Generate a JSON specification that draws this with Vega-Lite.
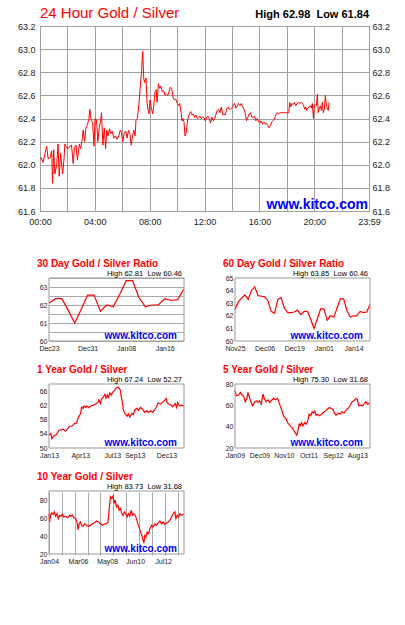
{
"$schema": "https://vega.github.io/schema/vega-lite/v6.json",
"autosize": {"type": "pad"},
"padding": {"left": 16, "top": 5, "right": 4, "bottom": 4},
"background": "white",
"spacing": 67,
"bounds": "flush",
"config": {
  "font": "Liberation Sans",
  "view": {"stroke": null},
  "axis": {"labelFont": "Liberation Sans", "ticks": false, "domain": false, "labelColor": "#222222", "gridColor": "#aaaaaa", "gridOpacity": 1, "gridWidth": 1, "labelFlush": false, "labelOverlap": false},
  "text": {"font": "Liberation Sans"}
},
"vconcat": [
{
 "width": 329, "height": 185,
 "view": {"stroke": "#000000"},
 "layer": [
  {
   "data": {"format": {"parse": {"time": "date:'%H:%M'"}}, "values": [
{"time":"00:00","ratio":62.05},{"time":"00:06","ratio":62.06},{"time":"00:13","ratio":62.02},{"time":"00:22","ratio":62.10},{"time":"00:29","ratio":62.16},{"time":"00:36","ratio":62.05},{"time":"00:44","ratio":62.06},{"time":"00:51","ratio":62.12},{"time":"00:55","ratio":61.84},{"time":"01:00","ratio":62.13},{"time":"01:05","ratio":61.92},{"time":"01:13","ratio":62.00},{"time":"01:19","ratio":62.18},{"time":"01:24","ratio":61.90},{"time":"01:30","ratio":62.10},{"time":"01:39","ratio":61.92},{"time":"01:45","ratio":62.05},{"time":"01:49","ratio":62.18},{"time":"01:56","ratio":62.15},{"time":"02:04","ratio":62.14},{"time":"02:11","ratio":62.16},{"time":"02:18","ratio":62.17},{"time":"02:25","ratio":62.01},{"time":"02:31","ratio":62.15},{"time":"02:37","ratio":62.17},{"time":"02:44","ratio":62.04},{"time":"02:52","ratio":62.18},{"time":"02:57","ratio":62.14},{"time":"03:03","ratio":62.20},{"time":"03:09","ratio":62.30},{"time":"03:15","ratio":62.20},{"time":"03:21","ratio":62.32},{"time":"03:28","ratio":62.35},{"time":"03:34","ratio":62.40},{"time":"03:38","ratio":62.48},{"time":"03:44","ratio":62.38},{"time":"03:50","ratio":62.37},{"time":"03:56","ratio":62.16},{"time":"04:01","ratio":62.40},{"time":"04:07","ratio":62.39},{"time":"04:13","ratio":62.20},{"time":"04:19","ratio":62.32},{"time":"04:25","ratio":62.38},{"time":"04:29","ratio":62.45},{"time":"04:35","ratio":62.17},{"time":"04:41","ratio":62.32},{"time":"04:47","ratio":62.14},{"time":"04:52","ratio":62.30},{"time":"04:58","ratio":62.25},{"time":"05:04","ratio":62.31},{"time":"05:10","ratio":62.27},{"time":"05:16","ratio":62.29},{"time":"05:23","ratio":62.23},{"time":"05:30","ratio":62.25},{"time":"05:37","ratio":62.22},{"time":"05:45","ratio":62.25},{"time":"05:51","ratio":62.30},{"time":"05:56","ratio":62.28},{"time":"06:02","ratio":62.20},{"time":"06:08","ratio":62.27},{"time":"06:15","ratio":62.29},{"time":"06:21","ratio":62.23},{"time":"06:27","ratio":62.30},{"time":"06:33","ratio":62.27},{"time":"06:39","ratio":62.17},{"time":"06:44","ratio":62.24},{"time":"06:50","ratio":62.30},{"time":"06:56","ratio":62.25},{"time":"07:00","ratio":62.39},{"time":"07:06","ratio":62.40},{"time":"07:12","ratio":62.51},{"time":"07:18","ratio":62.66},{"time":"07:24","ratio":62.80},{"time":"07:29","ratio":62.98},{"time":"07:34","ratio":62.74},{"time":"07:38","ratio":62.71},{"time":"07:44","ratio":62.75},{"time":"07:48","ratio":62.54},{"time":"07:53","ratio":62.47},{"time":"07:57","ratio":62.44},{"time":"08:01","ratio":62.56},{"time":"08:07","ratio":62.49},{"time":"08:13","ratio":62.44},{"time":"08:19","ratio":62.54},{"time":"08:23","ratio":62.63},{"time":"08:28","ratio":62.65},{"time":"08:32","ratio":62.54},{"time":"08:38","ratio":62.70},{"time":"08:44","ratio":62.66},{"time":"08:49","ratio":62.68},{"time":"08:55","ratio":62.63},{"time":"09:01","ratio":62.64},{"time":"09:07","ratio":62.60},{"time":"09:13","ratio":62.61},{"time":"09:19","ratio":62.60},{"time":"09:24","ratio":62.63},{"time":"09:30","ratio":62.67},{"time":"09:36","ratio":62.66},{"time":"09:42","ratio":62.58},{"time":"09:48","ratio":62.56},{"time":"09:53","ratio":62.57},{"time":"09:59","ratio":62.54},{"time":"10:05","ratio":62.51},{"time":"10:11","ratio":62.53},{"time":"10:17","ratio":62.45},{"time":"10:21","ratio":62.38},{"time":"10:25","ratio":62.40},{"time":"10:30","ratio":62.37},{"time":"10:34","ratio":62.25},{"time":"10:39","ratio":62.27},{"time":"10:43","ratio":62.34},{"time":"10:47","ratio":62.40},{"time":"10:53","ratio":62.44},{"time":"10:59","ratio":62.46},{"time":"11:05","ratio":62.43},{"time":"11:11","ratio":62.44},{"time":"11:16","ratio":62.41},{"time":"11:22","ratio":62.43},{"time":"11:28","ratio":62.40},{"time":"11:34","ratio":62.41},{"time":"11:40","ratio":62.42},{"time":"11:45","ratio":62.40},{"time":"11:51","ratio":62.41},{"time":"11:57","ratio":62.41},{"time":"12:03","ratio":62.38},{"time":"12:09","ratio":62.41},{"time":"12:15","ratio":62.42},{"time":"12:20","ratio":62.40},{"time":"12:26","ratio":62.36},{"time":"12:32","ratio":62.41},{"time":"12:38","ratio":62.38},{"time":"12:44","ratio":62.40},{"time":"12:49","ratio":62.43},{"time":"12:55","ratio":62.47},{"time":"13:01","ratio":62.48},{"time":"13:07","ratio":62.45},{"time":"13:13","ratio":62.50},{"time":"13:19","ratio":62.43},{"time":"13:24","ratio":62.44},{"time":"13:30","ratio":62.43},{"time":"13:36","ratio":62.48},{"time":"13:42","ratio":62.50},{"time":"13:48","ratio":62.48},{"time":"13:53","ratio":62.48},{"time":"13:59","ratio":62.49},{"time":"14:05","ratio":62.51},{"time":"14:11","ratio":62.53},{"time":"14:17","ratio":62.49},{"time":"14:23","ratio":62.51},{"time":"14:28","ratio":62.53},{"time":"14:34","ratio":62.51},{"time":"14:40","ratio":62.53},{"time":"14:46","ratio":62.50},{"time":"14:52","ratio":62.48},{"time":"14:57","ratio":62.45},{"time":"15:03","ratio":62.38},{"time":"15:09","ratio":62.41},{"time":"15:15","ratio":62.44},{"time":"15:21","ratio":62.45},{"time":"15:27","ratio":62.41},{"time":"15:32","ratio":62.41},{"time":"15:38","ratio":62.42},{"time":"15:44","ratio":62.38},{"time":"15:50","ratio":62.40},{"time":"15:56","ratio":62.37},{"time":"16:01","ratio":62.36},{"time":"16:07","ratio":62.38},{"time":"16:13","ratio":62.35},{"time":"16:19","ratio":62.37},{"time":"16:25","ratio":62.35},{"time":"16:31","ratio":62.36},{"time":"16:36","ratio":62.34},{"time":"16:42","ratio":62.32},{"time":"16:48","ratio":62.34},{"time":"16:54","ratio":62.37},{"time":"17:00","ratio":62.38},{"time":"17:05","ratio":62.39},{"time":"17:11","ratio":62.43},{"time":"17:17","ratio":62.45},{"time":"17:23","ratio":62.44},{"time":"17:30","ratio":62.45},{"time":"17:45","ratio":62.45},{"time":"17:59","ratio":62.45},{"time":"18:08","ratio":62.45},{"time":"18:12","ratio":62.54},{"time":"18:17","ratio":62.50},{"time":"18:21","ratio":62.53},{"time":"18:27","ratio":62.52},{"time":"18:33","ratio":62.54},{"time":"18:39","ratio":62.51},{"time":"18:44","ratio":62.53},{"time":"18:50","ratio":62.54},{"time":"18:56","ratio":62.53},{"time":"19:02","ratio":62.54},{"time":"19:08","ratio":62.53},{"time":"19:13","ratio":62.51},{"time":"19:18","ratio":62.48},{"time":"19:22","ratio":62.50},{"time":"19:27","ratio":62.47},{"time":"19:31","ratio":62.49},{"time":"19:37","ratio":62.50},{"time":"19:42","ratio":62.51},{"time":"19:47","ratio":62.49},{"time":"19:51","ratio":62.53},{"time":"19:56","ratio":62.40},{"time":"20:00","ratio":62.51},{"time":"20:04","ratio":62.52},{"time":"20:09","ratio":62.51},{"time":"20:13","ratio":62.61},{"time":"20:17","ratio":62.45},{"time":"20:22","ratio":62.49},{"time":"20:26","ratio":62.51},{"time":"20:31","ratio":62.47},{"time":"20:35","ratio":62.54},{"time":"20:39","ratio":62.45},{"time":"20:44","ratio":62.48},{"time":"20:48","ratio":62.60},{"time":"20:52","ratio":62.53},{"time":"20:57","ratio":62.48},{"time":"21:01","ratio":62.47},{"time":"21:05","ratio":62.54}
   ]},
   "mark": {"type": "line", "color": "#ff0000", "strokeWidth": 1},
   "encoding": {
    "x": {"field": "time", "type": "temporal",
     "scale": {"domain": [{"year":1900,"month":1,"date":1,"hours":0,"minutes":0},{"year":1900,"month":1,"date":1,"hours":23,"minutes":59}]},
     "axis": {"title": null, "orient": "bottom", "labelFontSize": 9, "labelPadding": 6, "gridColor": "#a0a0a0",
      "labelExpr": "(hours(datum.value) % 4 == 0 && minutes(datum.value) == 0) || minutes(datum.value) == 59 ? timeFormat(datum.value, '%H:%M') : ''",
      "values": [{"year":1900,"month":1,"date":1,"hours":0},{"year":1900,"month":1,"date":1,"hours":2},{"year":1900,"month":1,"date":1,"hours":4},{"year":1900,"month":1,"date":1,"hours":6},{"year":1900,"month":1,"date":1,"hours":8},{"year":1900,"month":1,"date":1,"hours":10},{"year":1900,"month":1,"date":1,"hours":12},{"year":1900,"month":1,"date":1,"hours":14},{"year":1900,"month":1,"date":1,"hours":16},{"year":1900,"month":1,"date":1,"hours":18},{"year":1900,"month":1,"date":1,"hours":20},{"year":1900,"month":1,"date":1,"hours":22},{"year":1900,"month":1,"date":1,"hours":23,"minutes":59}]}},
    "y": {"field": "ratio", "type": "quantitative",
     "scale": {"domain": [61.6, 63.2], "zero": false, "nice": false},
     "axis": {"title": null, "orient": "left", "values": [61.6,61.8,62.0,62.2,62.4,62.6,62.8,63.0,63.2], "format": ".1f", "labelFontSize": 9, "labelPadding": 5, "gridColor": "#a0a0a0", "minExtent": 0}}
   }
  },
  {
   "data": {"values": [{"label": "www.kitco.com"}]},
   "mark": {"type": "text", "align": "right", "baseline": "alphabetic", "dx": -1, "dy": -2, "fontSize": 14, "fontWeight": "bold", "color": "#0000ff"},
   "encoding": {
    "x": {"datum": {"year":1900,"month":1,"date":1,"hours":23,"minutes":59}, "type": "temporal", "axis": null},
    "y": {"datum": 61.6, "type": "quantitative", "axis": {"orient": "right", "title": null, "values": [61.6,61.8,62.0,62.2,62.4,62.6,62.8,63.0,63.2], "format": ".1f", "labelFontSize": 9, "labelPadding": 3, "grid": false, "minExtent": 0}},
    "text": {"field": "label"}
   }
  },
  {
   "data": {"values": [{"label": "24 Hour Gold / Silver"}]},
   "mark": {"type": "text", "align": "left", "baseline": "alphabetic", "dy": -8, "fontSize": 15, "color": "#ff0000"},
   "encoding": {
    "x": {"datum": {"year":1900,"month":1,"date":1,"hours":0,"minutes":0}, "type": "temporal", "axis": null},
    "y": {"datum": 63.2, "type": "quantitative", "axis": null},
    "text": {"field": "label"}
   }
  },
  {
   "data": {"values": [{"label": "High 62.98\u00a0\u00a0Low 61.84"}]},
   "mark": {"type": "text", "align": "right", "baseline": "alphabetic", "dy": -8, "fontSize": 11, "fontWeight": "bold", "color": "#000000"},
   "encoding": {
    "x": {"datum": {"year":1900,"month":1,"date":1,"hours":23,"minutes":59}, "type": "temporal", "axis": null},
    "y": {"datum": 63.2, "type": "quantitative", "axis": null},
    "text": {"field": "label"}
   }
  }
 ],
 "resolve": {"axis": {"x": "independent", "y": "independent"}}
},
{
 "width": 330, "height": 277,
 "layer": [
  {
   "layer": [
    {
     "data": {"values": [
{"day":0,"ratio":62.1},{"day":1,"ratio":62.35},{"day":2,"ratio":62.35},{"day":3,"ratio":61.7},{"day":4,"ratio":61.0},{"day":5,"ratio":61.75},{"day":6,"ratio":62.55},{"day":7,"ratio":62.55},{"day":8,"ratio":61.65},{"day":9,"ratio":62.0},{"day":10,"ratio":61.9},{"day":11,"ratio":62.6},{"day":12,"ratio":63.35},{"day":13,"ratio":63.35},{"day":14,"ratio":62.4},{"day":15,"ratio":61.9},{"day":16,"ratio":62.0},{"day":17,"ratio":62.0},{"day":18,"ratio":62.35},{"day":19,"ratio":62.25},{"day":20,"ratio":62.3},{"day":21,"ratio":62.9}
     ]},
     "mark": {"type": "line", "color": "#ff0000", "strokeWidth": 1.2},
     "encoding": {
      "x": {"field": "day", "type": "quantitative", "scale": {"domain": [0, 21], "range": [9, 144], "nice": false, "zero": false},
       "axis": {"title": null, "orient": "bottom", "offset": -214, "values": [0,2,4,6,8,10,12,14,16,18,20], "labelFontSize": 7, "labelPadding": 3,
        "labelExpr": "datum.value == 0 ? 'Dec23' : datum.value == 6 ? 'Dec31' : datum.value == 12 ? 'Jan08' : datum.value == 18 ? 'Jan16' : ''"}},
      "y": {"field": "ratio", "type": "quantitative", "scale": {"domain": [60, 63.5], "range": [63, 0], "nice": false, "zero": false},
       "axis": {"title": null, "orient": "left", "offset": -9, "values": [60,60.5,61,61.5,62,62.5,63,63.5], "format": ".0f", "labelExpr": "datum.value % 1 == 0 ? datum.label : ''", "labelFontSize": 7, "labelPadding": 2, "minExtent": 0}}
     }
    },
    {
     "data": {"values": [{}]},
     "mark": {"type": "rect", "filled": false, "stroke": "#999999", "strokeWidth": 1},
     "encoding": {"x": {"datum": 0, "type": "quantitative", "axis": null}, "x2": {"datum": 21}, "y": {"datum": 60, "type": "quantitative", "axis": null}, "y2": {"datum": 63.5}}
    },
    {
     "data": {"values": [{"label": "30 Day Gold / Silver Ratio"}]},
     "mark": {"type": "text", "align": "left", "baseline": "alphabetic", "dx": -12, "dy": -11, "fontSize": 10, "fontWeight": "bold", "color": "#ff0000"},
     "encoding": {"x": {"datum": 0, "type": "quantitative", "axis": null}, "y": {"datum": 63.5, "type": "quantitative", "axis": null}, "text": {"field": "label"}}
    },
    {
     "data": {"values": [{"label": "High 62.81\u00a0\u00a0Low 60.46"}]},
     "mark": {"type": "text", "align": "right", "baseline": "alphabetic", "dx": -2, "dy": -2.5, "fontSize": 7.5, "color": "#000000"},
     "encoding": {"x": {"datum": 21, "type": "quantitative", "axis": null}, "y": {"datum": 63.5, "type": "quantitative", "axis": null}, "text": {"field": "label"}}
    },
    {
     "data": {"values": [{"label": "www.kitco.com"}]},
     "mark": {"type": "text", "align": "right", "baseline": "alphabetic", "dx": -7, "dy": -2, "fontSize": 10, "fontWeight": "bold", "color": "#0000ff"},
     "encoding": {"x": {"datum": 21, "type": "quantitative", "axis": null}, "y": {"datum": 60, "type": "quantitative", "axis": null}, "text": {"field": "label"}}
    }
   ],
   "resolve": {"axis": {"x": "independent", "y": "independent"}}
  },
  {
   "layer": [
    {
     "data": {"values": [
{"day":0,"ratio":62.5},{"day":1,"ratio":63.1},{"day":2,"ratio":63.4},{"day":3,"ratio":63.65},{"day":4,"ratio":63.3},{"day":5,"ratio":64.0},{"day":6,"ratio":64.3},{"day":7,"ratio":63.6},{"day":8,"ratio":63.55},{"day":9,"ratio":63.5},{"day":10,"ratio":63.2},{"day":11,"ratio":62.35},{"day":12,"ratio":62.2},{"day":13,"ratio":63.3},{"day":14,"ratio":63.45},{"day":15,"ratio":62.6},{"day":16,"ratio":62.25},{"day":17,"ratio":62.25},{"day":18,"ratio":62.3},{"day":19,"ratio":62.45},{"day":20,"ratio":62.1},{"day":21,"ratio":62.35},{"day":22,"ratio":62.35},{"day":23,"ratio":61.7},{"day":24,"ratio":61.0},{"day":25,"ratio":61.75},{"day":26,"ratio":62.55},{"day":27,"ratio":62.55},{"day":28,"ratio":61.65},{"day":29,"ratio":62.0},{"day":30,"ratio":61.9},{"day":31,"ratio":62.6},{"day":32,"ratio":63.35},{"day":33,"ratio":63.35},{"day":34,"ratio":62.4},{"day":35,"ratio":61.9},{"day":36,"ratio":62.0},{"day":37,"ratio":62.0},{"day":38,"ratio":62.35},{"day":39,"ratio":62.25},{"day":40,"ratio":62.3},{"day":41,"ratio":62.9}
     ]},
     "mark": {"type": "line", "color": "#ff0000", "strokeWidth": 1.2},
     "encoding": {
      "x": {"field": "day", "type": "quantitative", "scale": {"domain": [0, 41], "range": [195, 330], "nice": false, "zero": false},
       "axis": {"title": null, "orient": "bottom", "offset": -214, "values": [0,3,6,9,12,15,18,21,24,27,30,33,36,39], "labelFontSize": 7, "labelPadding": 3,
        "labelExpr": "datum.value == 0 ? 'Nov25' : datum.value == 9 ? 'Dec06' : datum.value == 18 ? 'Dec19' : datum.value == 27 ? 'Jan01' : datum.value == 36 ? 'Jan14' : ''"}},
      "y": {"field": "ratio", "type": "quantitative", "scale": {"domain": [60, 65], "range": [63, 0], "nice": false, "zero": false},
       "axis": {"title": null, "orient": "left", "offset": -195, "values": [60,60.5,61,61.5,62,62.5,63,63.5,64,64.5,65], "format": ".0f", "labelExpr": "datum.value % 1 == 0 ? datum.label : ''", "labelFontSize": 7, "labelPadding": 2, "minExtent": 0}}
     }
    },
    {
     "data": {"values": [{}]},
     "mark": {"type": "rect", "filled": false, "stroke": "#999999", "strokeWidth": 1},
     "encoding": {"x": {"datum": 0, "type": "quantitative", "axis": null}, "x2": {"datum": 41}, "y": {"datum": 60, "type": "quantitative", "axis": null}, "y2": {"datum": 65}}
    },
    {
     "data": {"values": [{"label": "60 Day Gold / Silver Ratio"}]},
     "mark": {"type": "text", "align": "left", "baseline": "alphabetic", "dx": -12, "dy": -11, "fontSize": 10, "fontWeight": "bold", "color": "#ff0000"},
     "encoding": {"x": {"datum": 0, "type": "quantitative", "axis": null}, "y": {"datum": 65, "type": "quantitative", "axis": null}, "text": {"field": "label"}}
    },
    {
     "data": {"values": [{"label": "High 63.85\u00a0\u00a0Low 60.46"}]},
     "mark": {"type": "text", "align": "right", "baseline": "alphabetic", "dx": -2, "dy": -2.5, "fontSize": 7.5, "color": "#000000"},
     "encoding": {"x": {"datum": 41, "type": "quantitative", "axis": null}, "y": {"datum": 65, "type": "quantitative", "axis": null}, "text": {"field": "label"}}
    },
    {
     "data": {"values": [{"label": "www.kitco.com"}]},
     "mark": {"type": "text", "align": "right", "baseline": "alphabetic", "dx": -7, "dy": -2, "fontSize": 10, "fontWeight": "bold", "color": "#0000ff"},
     "encoding": {"x": {"datum": 41, "type": "quantitative", "axis": null}, "y": {"datum": 60, "type": "quantitative", "axis": null}, "text": {"field": "label"}}
    }
   ],
   "resolve": {"axis": {"x": "independent", "y": "independent"}}
  },
  {
   "layer": [
    {
     "data": {"values": [
{"date":"2013-01-02","ratio":53.6},{"date":"2013-01-07","ratio":54.1},{"date":"2013-01-10","ratio":52.6},{"date":"2013-01-15","ratio":53.3},{"date":"2013-01-23","ratio":53.8},{"date":"2013-01-31","ratio":55.0},{"date":"2013-02-06","ratio":55.1},{"date":"2013-02-11","ratio":55.3},{"date":"2013-02-18","ratio":54.7},{"date":"2013-02-22","ratio":55.1},{"date":"2013-02-28","ratio":56.0},{"date":"2013-03-07","ratio":56.2},{"date":"2013-03-11","ratio":56.4},{"date":"2013-03-15","ratio":56.9},{"date":"2013-03-21","ratio":57.0},{"date":"2013-03-25","ratio":58.2},{"date":"2013-03-28","ratio":58.9},{"date":"2013-04-01","ratio":59.5},{"date":"2013-04-03","ratio":60.4},{"date":"2013-04-05","ratio":61.5},{"date":"2013-04-09","ratio":61.1},{"date":"2013-04-12","ratio":61.8},{"date":"2013-04-17","ratio":61.4},{"date":"2013-04-19","ratio":61.8},{"date":"2013-04-26","ratio":61.4},{"date":"2013-05-02","ratio":61.9},{"date":"2013-05-07","ratio":62.0},{"date":"2013-05-13","ratio":62.3},{"date":"2013-05-17","ratio":62.5},{"date":"2013-05-22","ratio":63.0},{"date":"2013-05-24","ratio":63.5},{"date":"2013-05-28","ratio":62.5},{"date":"2013-05-31","ratio":63.7},{"date":"2013-06-05","ratio":64.2},{"date":"2013-06-10","ratio":65.1},{"date":"2013-06-13","ratio":64.0},{"date":"2013-06-17","ratio":64.9},{"date":"2013-06-20","ratio":64.2},{"date":"2013-06-24","ratio":65.5},{"date":"2013-06-28","ratio":64.9},{"date":"2013-07-03","ratio":65.8},{"date":"2013-07-08","ratio":66.2},{"date":"2013-07-12","ratio":66.9},{"date":"2013-07-18","ratio":67.1},{"date":"2013-07-22","ratio":66.6},{"date":"2013-07-24","ratio":66.2},{"date":"2013-07-26","ratio":64.7},{"date":"2013-07-30","ratio":62.7},{"date":"2013-08-01","ratio":60.9},{"date":"2013-08-05","ratio":59.8},{"date":"2013-08-09","ratio":59.4},{"date":"2013-08-12","ratio":58.9},{"date":"2013-08-16","ratio":59.6},{"date":"2013-08-20","ratio":58.7},{"date":"2013-08-26","ratio":59.8},{"date":"2013-08-30","ratio":59.4},{"date":"2013-09-03","ratio":60.7},{"date":"2013-09-09","ratio":61.2},{"date":"2013-09-13","ratio":60.5},{"date":"2013-09-19","ratio":61.4},{"date":"2013-09-25","ratio":60.9},{"date":"2013-10-01","ratio":60.0},{"date":"2013-10-07","ratio":60.5},{"date":"2013-10-11","ratio":60.0},{"date":"2013-10-18","ratio":60.5},{"date":"2013-10-24","ratio":60.0},{"date":"2013-10-29","ratio":60.7},{"date":"2013-11-04","ratio":61.6},{"date":"2013-11-08","ratio":62.7},{"date":"2013-11-15","ratio":62.3},{"date":"2013-11-21","ratio":62.9},{"date":"2013-11-27","ratio":63.4},{"date":"2013-12-02","ratio":63.9},{"date":"2013-12-04","ratio":62.7},{"date":"2013-12-10","ratio":62.3},{"date":"2013-12-16","ratio":62.0},{"date":"2013-12-20","ratio":61.6},{"date":"2013-12-27","ratio":62.5},{"date":"2013-12-31","ratio":61.4},{"date":"2014-01-03","ratio":62.8},{"date":"2014-01-08","ratio":61.9},{"date":"2014-01-14","ratio":62.0},{"date":"2014-01-21","ratio":61.9}
     ]},
     "mark": {"type": "line", "color": "#ff0000", "strokeWidth": 1.2},
     "encoding": {
      "x": {"field": "date", "type": "temporal",
       "scale": {"domain": [{"year":2013,"month":1,"date":2},{"year":2014,"month":1,"date":21}], "range": [9, 144]},
       "axis": {"title": null, "orient": "bottom", "offset": -107, "labelFontSize": 7, "labelPadding": 3,
        "labelExpr": "hours(datum.value) == 0 ? timeFormat(datum.value, '%b%y') : ''",
        "values": [{"year":2013,"month":1,"date":2},{"year":2013,"month":2,"date":15,"hours":12},{"year":2013,"month":4,"date":1},{"year":2013,"month":5,"date":16,"hours":12},{"year":2013,"month":7,"date":1},{"year":2013,"month":8,"date":2,"hours":12},{"year":2013,"month":9,"date":3},{"year":2013,"month":10,"date":17,"hours":12},{"year":2013,"month":12,"date":2},{"year":2014,"month":1,"date":9,"hours":12}]}},
      "y": {"field": "ratio", "type": "quantitative", "scale": {"domain": [50, 68], "range": [170, 106], "nice": false, "zero": false},
       "axis": {"title": null, "orient": "left", "offset": -9, "values": [50,52,54,56,58,60,62,64,66,68], "format": "d", "labelExpr": "(datum.value - 50) % 4 == 0 ? datum.label : ''", "labelFontSize": 7, "labelPadding": 2, "minExtent": 0}}
     }
    },
    {
     "data": {"values": [{}]},
     "mark": {"type": "rect", "filled": false, "stroke": "#999999", "strokeWidth": 1},
     "encoding": {"x": {"datum": {"year":2013,"month":1,"date":2}, "type": "temporal", "axis": null}, "x2": {"datum": {"year":2014,"month":1,"date":21}}, "y": {"datum": 50, "type": "quantitative", "axis": null}, "y2": {"datum": 68}}
    },
    {
     "data": {"values": [{"label": "1 Year Gold / Silver"}]},
     "mark": {"type": "text", "align": "left", "baseline": "alphabetic", "dx": -12, "dy": -11, "fontSize": 10, "fontWeight": "bold", "color": "#ff0000"},
     "encoding": {"x": {"datum": {"year":2013,"month":1,"date":2}, "type": "temporal", "axis": null}, "y": {"datum": 68, "type": "quantitative", "axis": null}, "text": {"field": "label"}}
    },
    {
     "data": {"values": [{"label": "High 67.24\u00a0\u00a0Low 52.27"}]},
     "mark": {"type": "text", "align": "right", "baseline": "alphabetic", "dx": -2, "dy": -2.5, "fontSize": 7.5, "color": "#000000"},
     "encoding": {"x": {"datum": {"year":2014,"month":1,"date":21}, "type": "temporal", "axis": null}, "y": {"datum": 68, "type": "quantitative", "axis": null}, "text": {"field": "label"}}
    },
    {
     "data": {"values": [{"label": "www.kitco.com"}]},
     "mark": {"type": "text", "align": "right", "baseline": "alphabetic", "dx": -7, "dy": -2, "fontSize": 10, "fontWeight": "bold", "color": "#0000ff"},
     "encoding": {"x": {"datum": {"year":2014,"month":1,"date":21}, "type": "temporal", "axis": null}, "y": {"datum": 50, "type": "quantitative", "axis": null}, "text": {"field": "label"}}
    }
   ],
   "resolve": {"axis": {"x": "independent", "y": "independent"}}
  },
  {
   "layer": [
    {
     "data": {"values": [
{"date":"2009-01-02","ratio":73.7},{"date":"2009-01-20","ratio":69.0},{"date":"2009-02-21","ratio":69.6},{"date":"2009-03-16","ratio":72.1},{"date":"2009-04-07","ratio":69.6},{"date":"2009-04-30","ratio":68.4},{"date":"2009-05-23","ratio":63.3},{"date":"2009-06-15","ratio":66.5},{"date":"2009-06-28","ratio":72.1},{"date":"2009-07-21","ratio":66.5},{"date":"2009-08-08","ratio":63.3},{"date":"2009-08-31","ratio":59.6},{"date":"2009-09-23","ratio":62.7},{"date":"2009-10-20","ratio":64.3},{"date":"2009-11-07","ratio":62.7},{"date":"2009-12-04","ratio":64.3},{"date":"2009-12-27","ratio":61.1},{"date":"2010-01-19","ratio":70.6},{"date":"2010-02-06","ratio":66.5},{"date":"2010-03-05","ratio":63.3},{"date":"2010-03-28","ratio":65.2},{"date":"2010-04-20","ratio":62.7},{"date":"2010-05-12","ratio":64.3},{"date":"2010-06-13","ratio":66.5},{"date":"2010-07-10","ratio":65.2},{"date":"2010-08-07","ratio":66.5},{"date":"2010-09-03","ratio":61.1},{"date":"2010-09-30","ratio":56.4},{"date":"2010-10-18","ratio":51.7},{"date":"2010-11-10","ratio":48.6},{"date":"2010-12-03","ratio":47.0},{"date":"2010-12-21","ratio":43.8},{"date":"2011-01-08","ratio":42.3},{"date":"2011-01-26","ratio":40.7},{"date":"2011-02-23","ratio":39.1},{"date":"2011-03-13","ratio":36.9},{"date":"2011-04-04","ratio":34.4},{"date":"2011-04-27","ratio":31.9},{"date":"2011-05-15","ratio":37.5},{"date":"2011-05-29","ratio":42.3},{"date":"2011-06-12","ratio":40.7},{"date":"2011-06-30","ratio":43.8},{"date":"2011-07-18","ratio":40.7},{"date":"2011-08-10","ratio":43.8},{"date":"2011-09-01","ratio":42.3},{"date":"2011-09-24","ratio":45.4},{"date":"2011-10-12","ratio":51.7},{"date":"2011-11-04","ratio":50.2},{"date":"2011-11-22","ratio":53.9},{"date":"2011-12-10","ratio":52.6},{"date":"2011-12-29","ratio":54.8},{"date":"2012-01-16","ratio":50.8},{"date":"2012-02-03","ratio":51.7},{"date":"2012-03-01","ratio":50.2},{"date":"2012-03-28","ratio":51.7},{"date":"2012-04-25","ratio":53.3},{"date":"2012-05-22","ratio":54.8},{"date":"2012-06-18","ratio":56.4},{"date":"2012-07-15","ratio":58.0},{"date":"2012-08-12","ratio":57.0},{"date":"2012-08-30","ratio":56.4},{"date":"2012-09-22","ratio":52.6},{"date":"2012-10-14","ratio":50.8},{"date":"2012-11-11","ratio":52.6},{"date":"2012-12-08","ratio":51.7},{"date":"2013-01-04","ratio":53.9},{"date":"2013-01-31","ratio":52.6},{"date":"2013-02-28","ratio":55.8},{"date":"2013-03-27","ratio":57.0},{"date":"2013-04-23","ratio":59.6},{"date":"2013-05-21","ratio":63.3},{"date":"2013-06-17","ratio":64.3},{"date":"2013-07-14","ratio":66.5},{"date":"2013-08-01","ratio":65.8},{"date":"2013-08-19","ratio":59.6},{"date":"2013-09-16","ratio":60.2},{"date":"2013-10-13","ratio":59.6},{"date":"2013-11-09","ratio":62.0},{"date":"2013-11-27","ratio":63.3},{"date":"2013-12-20","ratio":61.1},{"date":"2014-01-21","ratio":62.0}
     ]},
     "mark": {"type": "line", "color": "#ff0000", "strokeWidth": 1.2},
     "encoding": {
      "x": {"field": "date", "type": "temporal",
       "scale": {"domain": [{"year":2009,"month":1,"date":2},{"year":2014,"month":1,"date":21}], "range": [195, 330]},
       "axis": {"title": null, "orient": "bottom", "offset": -107, "labelFontSize": 7, "labelPadding": 3,
        "labelExpr": "hours(datum.value) == 0 ? timeFormat(datum.value, '%b%y') : ''",
        "values": [{"year":2009,"month":1,"date":2},{"year":2009,"month":6,"date":17,"hours":12},{"year":2009,"month":12,"date":1},{"year":2010,"month":5,"date":17,"hours":12},{"year":2010,"month":11,"date":1},{"year":2011,"month":4,"date":17,"hours":12},{"year":2011,"month":10,"date":3},{"year":2012,"month":3,"date":19,"hours":12},{"year":2012,"month":9,"date":4},{"year":2013,"month":2,"date":16,"hours":12},{"year":2013,"month":8,"date":1}]}},
      "y": {"field": "ratio", "type": "quantitative", "scale": {"domain": [20, 80], "range": [170, 106], "nice": false, "zero": false},
       "axis": {"title": null, "orient": "left", "offset": -195, "values": [20,30,40,50,60,70,80], "format": "d", "labelExpr": "datum.value % 20 == 0 ? datum.label : ''", "labelFontSize": 7, "labelPadding": 2, "minExtent": 0}}
     }
    },
    {
     "data": {"values": [{}]},
     "mark": {"type": "rect", "filled": false, "stroke": "#999999", "strokeWidth": 1},
     "encoding": {"x": {"datum": {"year":2009,"month":1,"date":2}, "type": "temporal", "axis": null}, "x2": {"datum": {"year":2014,"month":1,"date":21}}, "y": {"datum": 20, "type": "quantitative", "axis": null}, "y2": {"datum": 80}}
    },
    {
     "data": {"values": [{"label": "5 Year Gold / Silver"}]},
     "mark": {"type": "text", "align": "left", "baseline": "alphabetic", "dx": -12, "dy": -11, "fontSize": 10, "fontWeight": "bold", "color": "#ff0000"},
     "encoding": {"x": {"datum": {"year":2009,"month":1,"date":2}, "type": "temporal", "axis": null}, "y": {"datum": 80, "type": "quantitative", "axis": null}, "text": {"field": "label"}}
    },
    {
     "data": {"values": [{"label": "High 75.30\u00a0\u00a0Low 31.68"}]},
     "mark": {"type": "text", "align": "right", "baseline": "alphabetic", "dx": -2, "dy": -2.5, "fontSize": 7.5, "color": "#000000"},
     "encoding": {"x": {"datum": {"year":2014,"month":1,"date":21}, "type": "temporal", "axis": null}, "y": {"datum": 80, "type": "quantitative", "axis": null}, "text": {"field": "label"}}
    },
    {
     "data": {"values": [{"label": "www.kitco.com"}]},
     "mark": {"type": "text", "align": "right", "baseline": "alphabetic", "dx": -7, "dy": -2, "fontSize": 10, "fontWeight": "bold", "color": "#0000ff"},
     "encoding": {"x": {"datum": {"year":2014,"month":1,"date":21}, "type": "temporal", "axis": null}, "y": {"datum": 20, "type": "quantitative", "axis": null}, "text": {"field": "label"}}
    }
   ],
   "resolve": {"axis": {"x": "independent", "y": "independent"}}
  },
  {
   "layer": [
    {
     "data": {"values": [
{"date":"2004-01-02","ratio":65.0},{"date":"2004-01-20","ratio":55.6},{"date":"2004-02-16","ratio":63.1},{"date":"2004-03-15","ratio":65.7},{"date":"2004-04-20","ratio":64.2},{"date":"2004-05-26","ratio":66.8},{"date":"2004-07-01","ratio":61.9},{"date":"2004-08-06","ratio":64.9},{"date":"2004-09-12","ratio":59.3},{"date":"2004-10-18","ratio":63.1},{"date":"2004-11-23","ratio":61.9},{"date":"2004-12-30","ratio":64.2},{"date":"2005-02-04","ratio":61.2},{"date":"2005-03-31","ratio":61.9},{"date":"2005-05-24","ratio":60.4},{"date":"2005-07-18","ratio":63.1},{"date":"2005-08-23","ratio":61.9},{"date":"2005-09-28","ratio":63.1},{"date":"2005-11-04","ratio":60.4},{"date":"2005-12-28","ratio":59.3},{"date":"2006-02-03","ratio":55.6},{"date":"2006-03-02","ratio":47.0},{"date":"2006-03-29","ratio":53.0},{"date":"2006-05-04","ratio":55.6},{"date":"2006-06-10","ratio":51.8},{"date":"2006-07-16","ratio":50.7},{"date":"2006-08-31","ratio":53.7},{"date":"2006-10-15","ratio":51.8},{"date":"2006-12-09","ratio":50.7},{"date":"2007-02-01","ratio":51.8},{"date":"2007-03-28","ratio":53.7},{"date":"2007-05-21","ratio":54.5},{"date":"2007-07-15","ratio":56.7},{"date":"2007-09-07","ratio":55.6},{"date":"2007-11-01","ratio":53.7},{"date":"2007-12-25","ratio":51.8},{"date":"2008-02-17","ratio":53.0},{"date":"2008-04-11","ratio":53.7},{"date":"2008-05-27","ratio":55.6},{"date":"2008-06-23","ratio":68.7},{"date":"2008-07-30","ratio":83.7},{"date":"2008-09-04","ratio":81.8},{"date":"2008-10-10","ratio":84.4},{"date":"2008-11-07","ratio":76.2},{"date":"2008-12-04","ratio":79.9},{"date":"2009-01-09","ratio":72.4},{"date":"2009-02-15","ratio":74.3},{"date":"2009-03-23","ratio":68.7},{"date":"2009-04-28","ratio":70.6},{"date":"2009-06-04","ratio":64.9},{"date":"2009-07-10","ratio":63.1},{"date":"2009-08-15","ratio":66.8},{"date":"2009-09-21","ratio":64.9},{"date":"2009-10-27","ratio":61.2},{"date":"2009-12-02","ratio":64.9},{"date":"2010-01-08","ratio":61.9},{"date":"2010-02-13","ratio":68.7},{"date":"2010-03-22","ratio":63.1},{"date":"2010-04-27","ratio":64.9},{"date":"2010-06-02","ratio":63.1},{"date":"2010-07-09","ratio":59.3},{"date":"2010-08-14","ratio":53.7},{"date":"2010-09-19","ratio":49.9},{"date":"2010-10-26","ratio":44.3},{"date":"2010-12-01","ratio":40.6},{"date":"2011-01-06","ratio":35.0},{"date":"2011-01-25","ratio":32.0},{"date":"2011-02-21","ratio":40.6},{"date":"2011-03-20","ratio":38.7},{"date":"2011-04-25","ratio":44.3},{"date":"2011-06-01","ratio":42.5},{"date":"2011-07-07","ratio":48.1},{"date":"2011-08-22","ratio":51.8},{"date":"2011-10-06","ratio":49.9},{"date":"2011-11-21","ratio":53.7},{"date":"2012-01-05","ratio":51.8},{"date":"2012-02-19","ratio":54.5},{"date":"2012-04-05","ratio":56.7},{"date":"2012-05-20","ratio":53.7},{"date":"2012-07-05","ratio":55.6},{"date":"2012-08-19","ratio":53.0},{"date":"2012-10-04","ratio":54.5},{"date":"2012-11-18","ratio":55.6},{"date":"2013-01-03","ratio":57.5},{"date":"2013-02-17","ratio":61.2},{"date":"2013-04-04","ratio":64.9},{"date":"2013-05-19","ratio":66.8},{"date":"2013-06-15","ratio":59.3},{"date":"2013-07-22","ratio":63.1},{"date":"2013-08-27","ratio":61.2},{"date":"2013-10-02","ratio":64.9},{"date":"2013-11-17","ratio":63.1},{"date":"2014-01-19","ratio":64.2}
     ]},
     "mark": {"type": "line", "color": "#ff0000", "strokeWidth": 1.2},
     "encoding": {
      "x": {"field": "date", "type": "temporal",
       "scale": {"domain": [{"year":2004,"month":1,"date":2},{"year":2014,"month":1,"date":21}], "range": [9, 144]},
       "axis": {"title": null, "orient": "bottom", "offset": -1, "labelFontSize": 7, "labelPadding": 3, "gridColor": "#c8c8c8",
        "labelExpr": "hours(datum.value) == 0 ? timeFormat(datum.value, '%b%y') : ''",
        "values": [{"year":2004,"month":1,"date":2},{"year":2005,"month":2,"date":1,"hours":12},{"year":2006,"month":3,"date":1},{"year":2007,"month":4,"date":1,"hours":12},{"year":2008,"month":5,"date":1},{"year":2009,"month":5,"date":16,"hours":12},{"year":2010,"month":6,"date":1},{"year":2011,"month":6,"date":16,"hours":12},{"year":2012,"month":7,"date":2},{"year":2013,"month":8,"date":1,"hours":12}]}},
      "y": {"field": "ratio", "type": "quantitative", "scale": {"domain": [20, 90], "range": [276, 213], "nice": false, "zero": false},
       "axis": {"title": null, "orient": "left", "offset": -9, "values": [20,30,40,50,60,70,80,90], "format": "d", "labelExpr": "datum.value % 20 == 0 ? datum.label : ''", "labelFontSize": 7, "labelPadding": 2, "minExtent": 0}}
     }
    },
    {
     "data": {"values": [{}]},
     "mark": {"type": "rect", "filled": false, "stroke": "#999999", "strokeWidth": 1},
     "encoding": {"x": {"datum": {"year":2004,"month":1,"date":2}, "type": "temporal", "axis": null}, "x2": {"datum": {"year":2014,"month":1,"date":21}}, "y": {"datum": 20, "type": "quantitative", "axis": null}, "y2": {"datum": 90}}
    },
    {
     "data": {"values": [{"label": "10 Year Gold / Silver"}]},
     "mark": {"type": "text", "align": "left", "baseline": "alphabetic", "dx": -12, "dy": -11, "fontSize": 10, "fontWeight": "bold", "color": "#ff0000"},
     "encoding": {"x": {"datum": {"year":2004,"month":1,"date":2}, "type": "temporal", "axis": null}, "y": {"datum": 90, "type": "quantitative", "axis": null}, "text": {"field": "label"}}
    },
    {
     "data": {"values": [{"label": "High 83.73\u00a0\u00a0Low 31.68"}]},
     "mark": {"type": "text", "align": "right", "baseline": "alphabetic", "dx": -2, "dy": -2.5, "fontSize": 7.5, "color": "#000000"},
     "encoding": {"x": {"datum": {"year":2014,"month":1,"date":21}, "type": "temporal", "axis": null}, "y": {"datum": 90, "type": "quantitative", "axis": null}, "text": {"field": "label"}}
    },
    {
     "data": {"values": [{"label": "www.kitco.com"}]},
     "mark": {"type": "text", "align": "right", "baseline": "alphabetic", "dx": -7, "dy": -2, "fontSize": 10, "fontWeight": "bold", "color": "#0000ff"},
     "encoding": {"x": {"datum": {"year":2014,"month":1,"date":21}, "type": "temporal", "axis": null}, "y": {"datum": 20, "type": "quantitative", "axis": null}, "text": {"field": "label"}}
    }
   ],
   "resolve": {"axis": {"x": "independent", "y": "independent"}}
  }
 ],
 "resolve": {"scale": {"x": "independent", "y": "independent"}, "axis": {"x": "independent", "y": "independent"}}
}
]
}
